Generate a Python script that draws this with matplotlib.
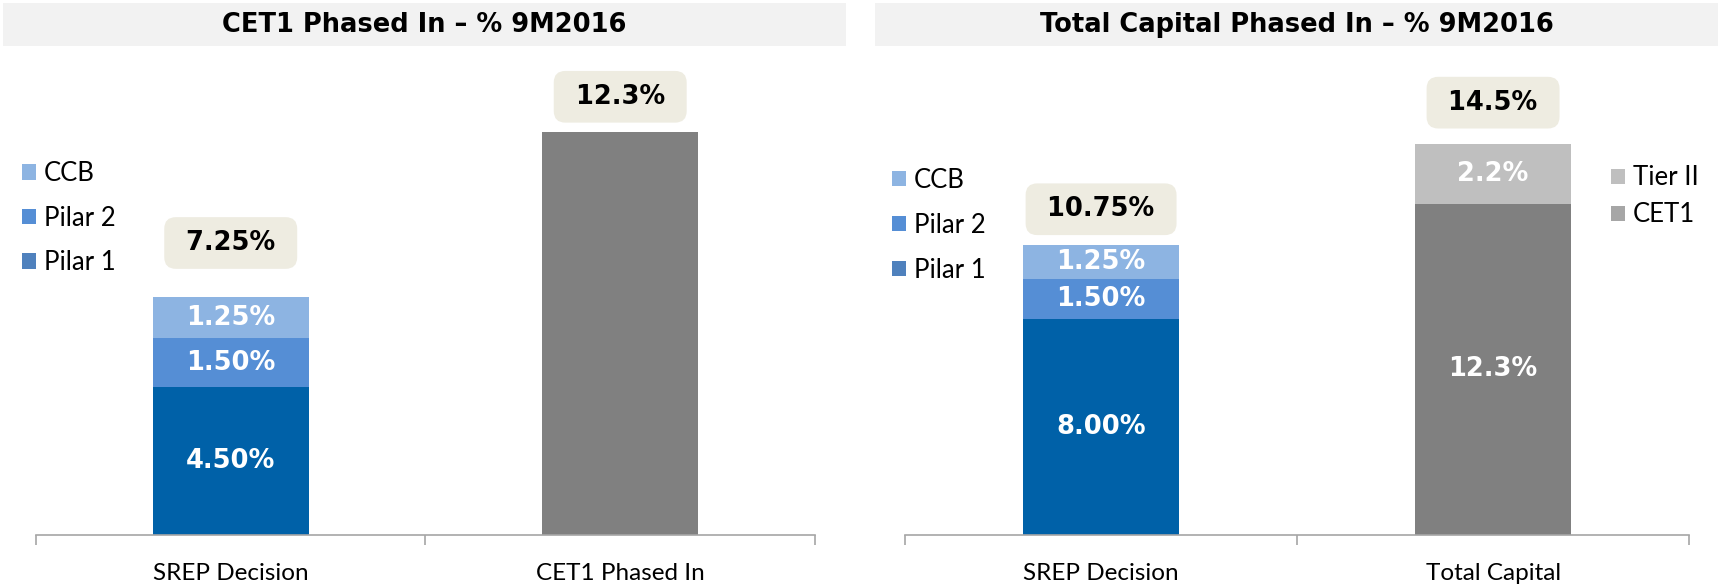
import matplotlib
matplotlib.use('Agg')
import matplotlib.pyplot as plt
from matplotlib.patches import Patch, Rectangle

plt.rcParams['font.family'] = ['Lato', 'DejaVu Sans']
BOLD = ['DejaVu Sans']

# data
left_categories = ['SREP Decision', 'CET1 Phased In']
right_categories = ['SREP Decision', 'Total Capital']
srep_layers = ['Pilar 1', 'Pilar 2', 'CCB']
left_srep_values = [4.50, 1.50, 1.25]
right_srep_values = [8.00, 1.50, 1.25]
cet1_phased_in = 12.3
total_layers = ['CET1', 'Tier II']
total_capital_values = [12.3, 2.2]
left_total_labels = ['7.25%', '12.3%']
right_total_labels = ['10.75%', '14.5%']

srep_colors = ['#0061A8', '#558ED5', '#8DB4E2']
srep_legend_colors = ['#4F81BD', '#558ED5', '#8DB4E2']
total_colors = ['#808080', '#BFBFBF']
total_legend_colors = ['#A6A6A6', '#BFBFBF']
box_color = '#EEECE1'
axis_color = '#A6A6A6'
bar_w = 0.40

fig = plt.figure(figsize=(17.23, 5.86), dpi=100)
ax_l = fig.add_axes([0.02089, 0.08703, 0.4521, 0.8106])
ax_r = fig.add_axes([0.5253, 0.08703, 0.4550, 0.8106])

# title bars
for x0, w, title in [(0.0017, 0.4893, 'CET1 Phased In – % 9M2016'),
                     (0.5078, 0.4893, 'Total Capital Phased In – % 9M2016')]:
    fig.patches.append(Rectangle((x0, 0.9215), w, 0.0735, transform=fig.transFigure,
                                 facecolor='#F2F2F2', edgecolor='none', zorder=0))
    fig.text(x0 + w / 2, 0.958, title, ha='center', va='center', family=BOLD,
             fontsize=18.5, fontweight='bold', color='black')


def stack(ax, x, values, colors, fmt, show_labels=True):
    bottom = 0
    for v, c in zip(values, colors):
        ax.bar(x, v, bar_w, bottom=bottom, color=c, edgecolor='none', zorder=2)
        if show_labels:
            ax.text(x, bottom + v / 2, fmt.format(v), ha='center', va='center',
                    color='white', fontsize=18.5, fontweight='bold', family=BOLD,
                    zorder=3)
        bottom += v
    return bottom


def total_box(ax, x, top, label, off):
    ax.annotate(' ' + label + ' ', (x, top), xytext=(0, off),
                textcoords='offset points', ha='center', va='center',
                fontsize=18.5, fontweight='bold', family=BOLD, color='black',
                zorder=5,
                bbox=dict(boxstyle='round,pad=0.5,rounding_size=0.45',
                          facecolor=box_color, edgecolor='none'))


def style_axis(ax, cats, ytop):
    ax.set_xlim(-0.5, 1.5)
    ax.set_ylim(0, ytop)
    for s in ['top', 'right', 'left']:
        ax.spines[s].set_visible(False)
    ax.spines['bottom'].set_color(axis_color)
    ax.spines['bottom'].set_linewidth(1.2)
    ax.set_yticks([])
    ax.set_xticks([-0.5, 0.5, 1.5])
    ax.set_xticklabels([])
    ax.tick_params(axis='x', which='major', direction='out', length=7,
                   width=1.2, color=axis_color)
    ax.set_xticks([0, 1], minor=True)
    ax.set_xticklabels(cats, minor=True, fontsize=17.5)
    ax.tick_params(axis='x', which='minor', length=0, pad=20)
    ax.patch.set_visible(False)


# left panel
top0 = stack(ax_l, 0, left_srep_values, srep_colors, '{:.2f}%')
ax_l.bar(1, cet1_phased_in, bar_w, color=total_colors[0], edgecolor='none', zorder=2)
total_box(ax_l, 0, top0, left_total_labels[0], 39)
total_box(ax_l, 1, cet1_phased_in, left_total_labels[1], 25)
style_axis(ax_l, left_categories, 14.48)

# right panel
top0 = stack(ax_r, 0, right_srep_values, srep_colors, '{:.2f}%')
top1 = stack(ax_r, 1, total_capital_values, total_colors, '{:.1f}%')
total_box(ax_r, 0, top0, right_total_labels[0], 26)
total_box(ax_r, 1, top1, right_total_labels[1], 30)
style_axis(ax_r, right_categories, 17.63)


# legends
def legend(labels, colors, anchor, spacing):
    handles = [Patch(facecolor=c, edgecolor='none') for c in colors]
    fig.legend(handles[::-1], labels[::-1], loc='upper left', bbox_to_anchor=anchor,
               frameon=False, fontsize=18.5, handlelength=0.55, handleheight=0.55,
               handletextpad=0.31, labelspacing=spacing, borderpad=0,
               borderaxespad=0)


legend(srep_layers, srep_legend_colors, (0.0128, 0.7248), 0.76)
legend(srep_layers, srep_legend_colors, (0.5177, 0.7140), 0.78)
legend(total_layers, total_legend_colors, (0.935, 0.7178), 0.47)

fig.savefig('out.png', dpi=100)
plt.close(fig)
